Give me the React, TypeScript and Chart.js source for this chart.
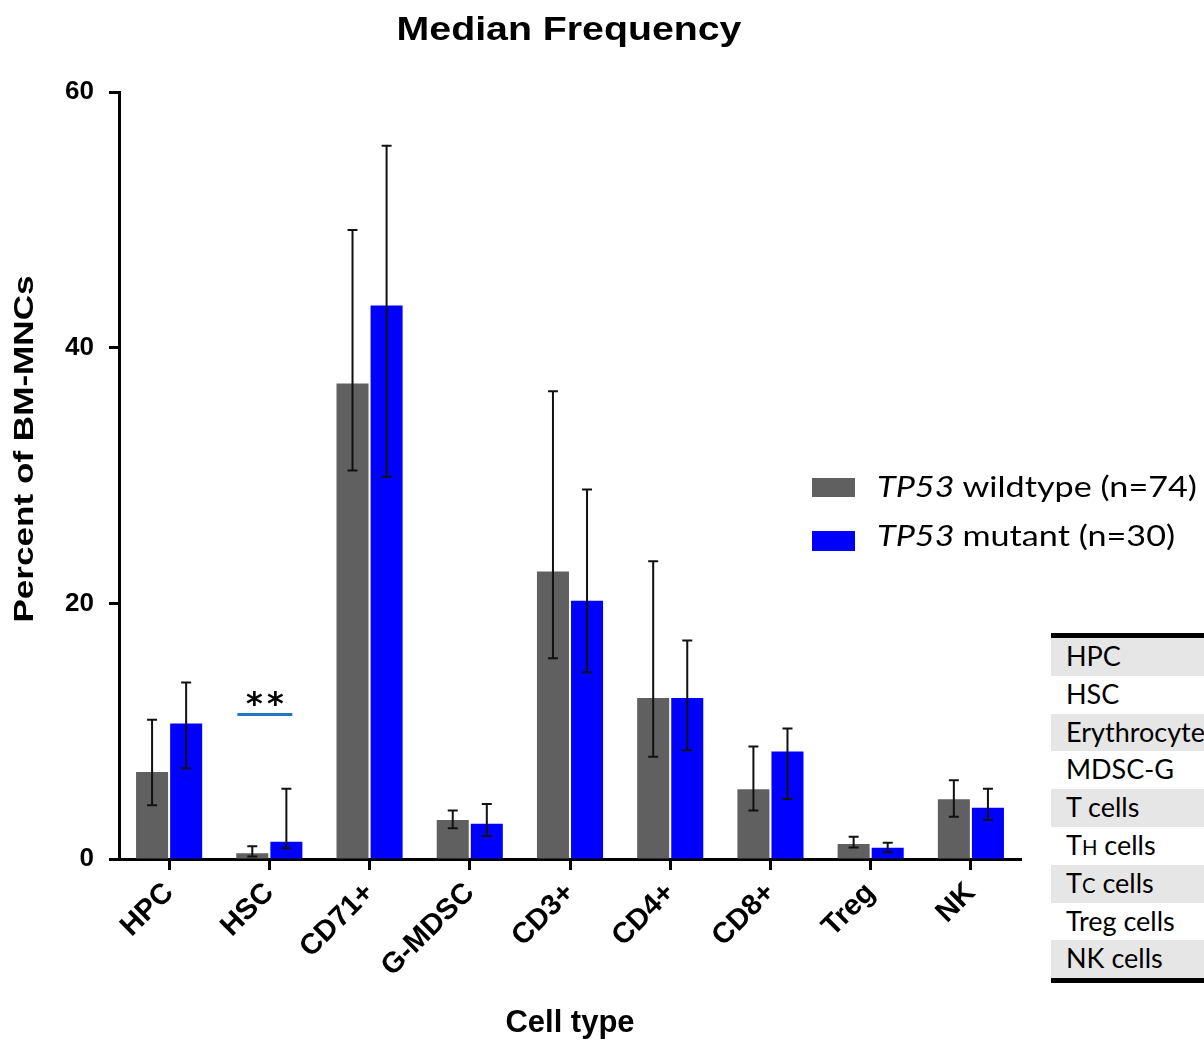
import React, { useEffect, useRef } from "react";
import { Chart, registerables } from "chart.js";

Chart.register(...registerables);

// ---- data ----
const categories = ["HPC", "HSC", "CD71+", "G-MDSC", "CD3+", "CD4+", "CD8+", "Treg", "NK"];
const wildtypeMedian = [6.8, 0.45, 37.2, 3.05, 22.5, 12.6, 5.45, 1.17, 4.67];
const wildtypeLow = [4.2, 0.2, 30.4, 2.4, 15.7, 8.0, 3.8, 0.9, 3.3];
const wildtypeHigh = [10.9, 1.0, 49.2, 3.8, 36.6, 23.3, 8.8, 1.75, 6.16];
const mutantMedian = [10.6, 1.35, 43.3, 2.75, 20.2, 12.6, 8.4, 0.88, 4.0];
const mutantLow = [7.1, 0.85, 29.9, 1.8, 14.6, 8.5, 4.7, 0.52, 3.05];
const mutantHigh = [13.8, 5.5, 55.8, 4.3, 28.9, 17.1, 10.2, 1.28, 5.5];
const yTicks = [0, 20, 40, 60];
const seriesNames = ["wildtype (n=74)", "mutant (n=30)"];
const seriesColors = ["#606060", "#0000ff"];
const sigCategory = "HSC";
const sigLabel = "**";
const sigLevel = 11.3;
const tableRows: [string, string, string][] = [
  ["HPC", "", ""],
  ["HSC", "", ""],
  ["Erythrocytes", "", ""],
  ["MDSC-G", "", ""],
  ["T cells", "", ""],
  ["T", "H", " cells"],
  ["T", "C", " cells"],
  ["Treg cells", "", ""],
  ["NK cells", "", ""],
];

const TXT = "'Liberation Sans', Arial, sans-serif";

function stretchedText(ctx: CanvasRenderingContext2D, text: string, x: number, y: number, font: string, sx: number, rot = 0) {
  ctx.save();
  ctx.translate(x, y);
  ctx.rotate(rot);
  ctx.scale(sx, 1);
  ctx.font = font;
  ctx.textAlign = "center";
  ctx.textBaseline = "alphabetic";
  ctx.fillStyle = "#000";
  ctx.fillText(text, 0, 0);
  ctx.restore();
}

const overlayPlugin = {
  id: "overlay",
  afterDatasetsDraw(chart: any) {
    const ctx: CanvasRenderingContext2D = chart.ctx;
    const ys = chart.scales.y;
    const ranges = [
      [wildtypeLow, wildtypeHigh],
      [mutantLow, mutantHigh],
    ];
    ranges.forEach(([lo, hi], di) => {
      const meta = chart.getDatasetMeta(di);
      meta.data.forEach((bar: any, j: number) => {
        const x = bar.x;
        const yl = ys.getPixelForValue(lo[j]);
        const yh = ys.getPixelForValue(hi[j]);
        ctx.save();
        ctx.strokeStyle = "#111";
        ctx.lineWidth = 2;
        ctx.beginPath();
        ctx.moveTo(x, yl);
        ctx.lineTo(x, yh);
        ctx.moveTo(x - 5, yl);
        ctx.lineTo(x + 5, yl);
        ctx.moveTo(x - 5, yh);
        ctx.lineTo(x + 5, yh);
        ctx.stroke();
        ctx.restore();
      });
    });
  },
  afterDraw(chart: any) {
    const ctx: CanvasRenderingContext2D = chart.ctx;
    const xs = chart.scales.x;
    const ys = chart.scales.y;
    // title
    stretchedText(ctx, "Median Frequency", 569, 40, `bold 33px ${TXT}`, 1.19);
    // y title
    stretchedText(ctx, "Percent of BM-MNCs", 33, 449, `bold 27px ${TXT}`, 1.3, -Math.PI / 2);
    // x title
    stretchedText(ctx, "Cell type", 570, 1032, `bold 31px ${TXT}`, 1.0);

    // significance
    const ci = categories.indexOf(sigCategory);
    const xc = xs.getPixelForValue(ci);
    const yl = ys.getPixelForValue(sigLevel);
    ctx.save();
    ctx.strokeStyle = "#1f78c0";
    ctx.lineWidth = 3;
    ctx.beginPath();
    ctx.moveTo(xc - 32, yl);
    ctx.lineTo(xc + 23, yl);
    ctx.stroke();
    ctx.fillStyle = "#000";
    ctx.font = `bold 32px 'DejaVu Sans', sans-serif`;
    ctx.textAlign = "center";
    ctx.textBaseline = "alphabetic";
    const chars = sigLabel.split("");
    chars.forEach((c, k) => {
      ctx.fillText(c, xc - 15 + k * 21, yl - 1);
    });
    ctx.restore();

    // legend
    const lx = 812;
    const rows = [
      { top: 478, h: 19, base: 497 },
      { top: 531, h: 20, base: 546 },
    ];
    rows.forEach((r, i) => {
      ctx.save();
      ctx.fillStyle = seriesColors[i];
      ctx.fillRect(lx, r.top, 43, r.h);
      ctx.fillStyle = "#000";
      ctx.textAlign = "left";
      ctx.textBaseline = "alphabetic";
      ctx.translate(877, r.base);
      ctx.scale(1.22, 1);
      ctx.font = "italic 28px Lato, sans-serif";
      ctx.fillText("TP53", 0, 0);
      const w = ctx.measureText("TP53 ").width;
      ctx.font = "28px Lato, sans-serif";
      ctx.fillText(seriesNames[i], w, 0);
      ctx.restore();
    });
  },
};

export default function App() {
  const ref = useRef<HTMLCanvasElement | null>(null);
  useEffect(() => {
    if (!ref.current) return;
    const chart = new Chart(ref.current, {
      type: "bar",
      data: {
        labels: categories,
        datasets: [
          { label: "TP53 " + seriesNames[0], data: wildtypeMedian, backgroundColor: seriesColors[0], borderWidth: 0, barPercentage: 0.94, categoryPercentage: 0.68 },
          { label: "TP53 " + seriesNames[1], data: mutantMedian, backgroundColor: seriesColors[1], borderWidth: 0, barPercentage: 0.94, categoryPercentage: 0.68 },
        ],
      },
      options: {
        responsive: false,
        animation: false,
        layout: { padding: { left: 0, top: 92, right: 183, bottom: 0 } },
        plugins: { legend: { display: false }, tooltip: { enabled: false }, title: { display: false } },
        scales: {
          x: {
            offset: true,
            grid: { drawOnChartArea: false, offset: false, tickLength: 11, tickWidth: 3, tickColor: "#000" },
            border: { display: true, color: "#000", width: 3 },
            ticks: {
              color: "#000",
              minRotation: 45,
              maxRotation: 45,
              padding: 6,
              font: { family: TXT, size: 29, weight: "bold" },
            },
            afterFit: (s: any) => {
              s.height = 184;
            },
          },
          y: {
            min: 0,
            max: 60,
            afterBuildTicks: (s: any) => {
              s.ticks = yTicks.map((v) => ({ value: v }));
            },
            grid: { drawOnChartArea: false, tickLength: 10, tickWidth: 3, tickColor: "#000" },
            border: { display: true, color: "#000", width: 3 },
            ticks: {
              color: "#000",
              padding: 15,
              font: { family: TXT, size: 26, weight: "bold" },
            },
            afterFit: (s: any) => {
              s.width = 119;
            },
          },
        },
      },
      plugins: [overlayPlugin],
    } as any);
    return () => chart.destroy();
  }, []);

  return (
    <div style={{ position: "fixed", left: 0, top: 0, width: 1204, height: 1043, overflow: "hidden", background: "#fff" }}>
      <canvas ref={ref} width={1204} height={1043} style={{ display: "block", position: "absolute", left: 0, top: 0 }} />
      <div
        style={{
          position: "absolute",
          left: 1051,
          top: 633,
          width: 420,
          borderTop: "5px solid #000",
          borderBottom: "5px solid #000",
          fontFamily: "Lato, sans-serif",
          fontSize: 27,
          color: "#000",
        }}
      >
        {tableRows.map((r, i) => (
          <div
            key={i}
            style={{
              height: 37.8,
              lineHeight: "35px",
              background: i % 2 === 0 ? "#e7e6e6" : "#fff",
              paddingLeft: 15,
              whiteSpace: "nowrap",
              overflow: "hidden",
            }}
          >
            {r[0]}
            {r[1] ? <span style={{ fontSize: "0.75em" }}>{r[1]}</span> : null}
            {r[2]}
          </div>
        ))}
      </div>
    </div>
  );
}
